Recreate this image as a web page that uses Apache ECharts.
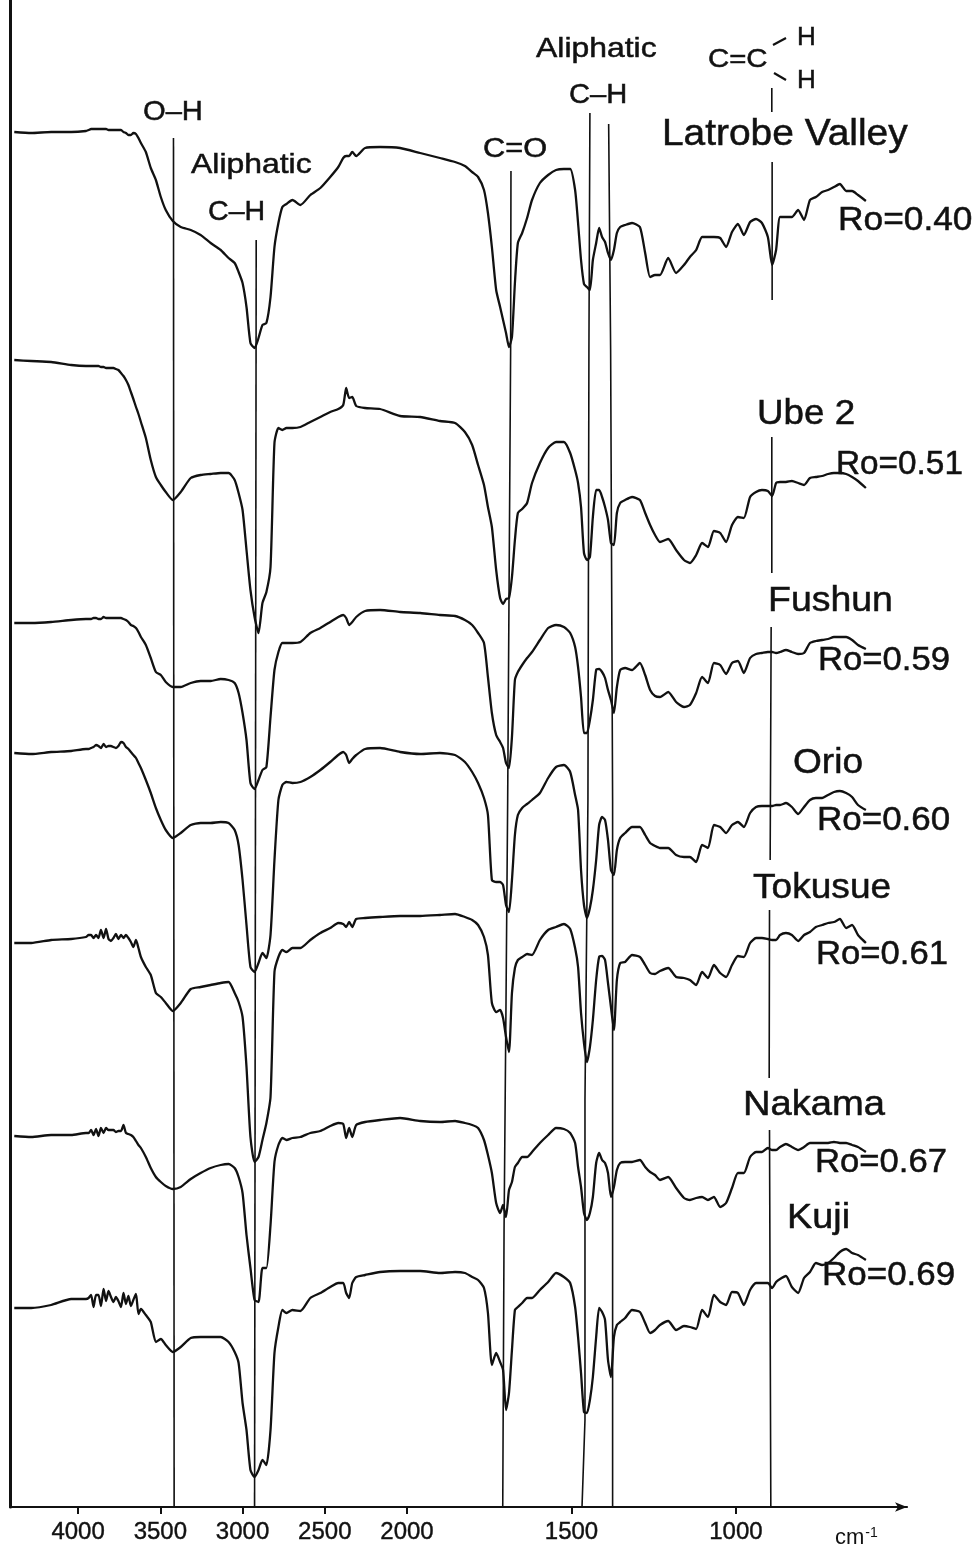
<!DOCTYPE html>
<html>
<head>
<meta charset="utf-8">
<title>IR spectra of coals</title>
<script src="https://cdn.jsdelivr.net/npm/echarts@6/dist/echarts.min.js"></script>
<style>
  html, body { margin: 0; padding: 0; background: #fff; }
  #main { width: 980px; height: 1546px; }
</style>
</head>
<body>
<div id="main"></div>
<script>
// wavenumber of each reading, cm-1
const wavenumbers = [
  4388,4285,4164,4042,3952,3936,3921,3906,3891,3876,3861,3845,3830,3815,3800,3785,3770,3755,3739,3724,3709,3694,3679,3664,3648,3633,3618,3588,3558,3527,3497,3467,
  3424,3376,3315,3255,3194,3133,3085,3048,3024,3000,2976,2952,2927,2903,2879,2855,2830,2806,2782,2758,2733,
  2697,2648,2588,2527,2467,2418,2388,2370,2352,2333,2309,2255,2164,2042,1960,1900,1854,1824,1802,1784,1766,1754,
  1742,1729,1717,1708,1699,1690,1681,1672,1663,1650,1635,1620,1596,1571,1547,1523,1504,1489,
  1480,1471,1462,1453,1444,1435,1425,1416,1407,1398,1389,1380,1371,1362,1352,1337,1316,1292,
  1276,1261,1246,1231,1206,1182,1158,1140,1121,1103,1085,1067,1048,1030,1012,994,976,957,939,921,903,
  890,878,866,848,830,811,793,775,757,738,720,702,684,665,647,629,605
]

// pen depth of each trace on the recorder sheet, same order as wavenumbers
const latrobeValley = [
  132,133,132,132,131,130,129,129,129,129,129,129,129,130,130,130,130,130,130,132,133,135,135,133,134,138,143,152,168,180,197,210,
  221,227,230,235,243,250,258,263,272,283,307,343,348,338,325,323,297,247,223,207,204,
  200,205,195,188,177,167,158,156,156,152,156,148,147,148,153,158,162,166,172,177,190,213,
  247,290,307,320,333,347,337,283,243,233,218,200,183,175,170,169,169,190,
  223,260,284,287,290,260,243,228,237,242,253,260,250,233,227,225,223,227,
  253,277,275,275,258,273,265,257,250,237,237,237,238,247,232,224,235,222,219,223,237,
  265,250,217,217,217,210,220,200,197,192,190,187,184,191,191,195,201
]
const ube2 = [
  360,361,362,365,366,366,366,366,366,366,367,367,368,368,368,368,369,370,373,376,380,385,392,399,407,414,422,438,460,477,485,492,
  500,492,478,475,474,473,473,480,493,510,550,590,617,633,603,592,567,443,428,430,428,
  428,427,422,417,412,409,405,388,398,397,406,408,409,416,417,421,423,432,445,465,485,507,
  527,570,598,604,599,598,577,540,513,509,503,483,463,448,442,442,453,470,
  483,507,553,560,557,517,490,490,497,507,520,543,545,513,503,500,497,500,
  513,525,535,542,539,550,560,563,555,543,547,531,533,542,525,517,518,497,492,490,491,
  496,483,482,482,481,483,485,478,477,476,474,473,473,474,477,481,488
]
const fushun = [
  623,623,622,620,619,619,619,618,618,619,619,617,618,618,618,618,618,618,618,619,620,622,625,626,628,632,637,645,658,672,675,682,
  687,687,683,681,681,679,680,683,693,713,740,783,789,780,770,767,717,670,652,643,643,
  643,642,633,628,622,617,615,618,625,622,617,611,610,612,613,615,616,620,625,633,643,677,
  713,735,742,748,763,768,737,680,672,665,658,652,640,628,625,627,633,647,
  667,697,733,733,720,700,670,669,672,678,690,700,713,687,670,668,670,663,
  675,690,696,697,692,702,707,705,693,677,683,663,665,674,663,661,673,658,654,653,652,
  652,653,652,650,652,654,653,643,641,640,639,637,637,637,640,645,649
]
const orio = [
  753,754,752,751,749,749,748,747,745,746,748,744,747,746,746,747,748,746,742,743,747,749,752,755,758,763,768,780,793,808,820,830,
  838,833,825,823,823,822,823,830,845,880,925,967,972,963,953,958,935,860,800,785,782,
  783,782,777,770,762,755,752,755,763,759,755,749,748,752,754,753,755,762,772,783,798,815,
  880,882,882,885,905,912,880,835,815,808,804,800,793,778,767,765,772,795,
  810,870,905,918,908,890,860,825,817,820,840,870,875,850,838,833,827,827,
  835,843,846,848,848,855,857,857,862,845,848,825,827,833,825,822,827,813,807,806,806,
  806,805,805,803,807,814,807,800,798,798,795,792,791,793,797,805,810
]
const tokusue = [
  943,943,940,939,937,935,935,938,935,938,930,938,929,939,941,938,934,939,935,938,935,938,942,947,940,948,957,967,975,993,997,1003,
  1011,1003,989,987,985,983,982,993,1002,1017,1067,1137,1162,1157,1140,1123,1097,972,957,950,952,
  948,948,940,933,928,923,924,927,922,927,919,918,917,916,916,915,914,917,920,925,937,955,
  1003,1012,1010,1018,1037,1052,993,968,960,957,954,955,940,930,927,924,929,948,
  967,1013,1043,1062,1047,1020,980,957,956,960,983,1007,1030,980,963,962,955,957,
  965,973,974,971,968,977,978,980,985,972,978,965,973,977,965,956,957,943,938,938,939,
  940,940,935,933,935,941,935,932,927,925,923,922,919,928,925,935,943
]
const nakama = [
  1136,1137,1135,1135,1133,1133,1130,1135,1129,1136,1128,1133,1128,1130,1130,1130,1132,1131,1131,1125,1133,1134,1135,1137,1141,1145,1148,1157,1168,1177,1182,1186,
  1189,1187,1179,1173,1168,1165,1164,1168,1177,1193,1235,1268,1300,1302,1268,1268,1225,1162,1145,1138,1140,
  1138,1137,1133,1131,1126,1123,1124,1138,1128,1137,1125,1122,1120,1118,1121,1122,1121,1123,1125,1128,1140,1155,
  1173,1203,1213,1205,1217,1190,1182,1167,1163,1157,1157,1152,1143,1135,1128,1129,1133,1143,
  1167,1187,1213,1220,1213,1197,1163,1153,1160,1163,1173,1197,1187,1170,1163,1162,1162,1160,
  1167,1172,1175,1180,1177,1188,1198,1200,1198,1197,1200,1197,1207,1203,1188,1173,1173,1157,1152,1152,1148,
  1150,1150,1147,1144,1147,1150,1147,1143,1143,1143,1143,1142,1143,1143,1145,1147,1152
]
const kuji = [
  1308,1308,1305,1299,1299,1298,1295,1307,1295,1295,1306,1289,1301,1291,1297,1302,1297,1301,1307,1293,1304,1296,1306,1300,1294,1314,1309,1315,1322,1342,1339,1345,
  1352,1347,1338,1337,1337,1337,1342,1352,1363,1403,1430,1470,1477,1470,1460,1465,1430,1353,1327,1310,1313,
  1310,1311,1298,1293,1287,1283,1283,1293,1298,1283,1277,1275,1272,1271,1271,1273,1272,1273,1277,1280,1288,1313,
  1365,1353,1362,1370,1410,1393,1350,1310,1307,1303,1298,1298,1290,1282,1273,1277,1283,1307,
  1337,1373,1412,1413,1400,1377,1337,1308,1312,1320,1360,1377,1337,1325,1322,1318,1310,1312,
  1323,1333,1330,1325,1321,1330,1326,1327,1329,1310,1317,1295,1302,1305,1292,1293,1305,1290,1283,1283,1283,
  1288,1282,1279,1276,1287,1293,1278,1272,1263,1265,1263,1258,1252,1249,1253,1255,1260
]

// band reference lines drawn by hand on the sheet, null = a break in the line
const ohLineWn = [3420, 3416]
const ohLineDepth = [138, 1507]
const chLineWn = [2917, 2927]
const chLineDepth = [240, 1507]
const coLineWn = [1684, 1685, 1694, 1699, 1705, 1709]
const coLineDepth = [171, 350, 800, 1000, 1230, 1507]
const ch2LineWn = [1444, 1447, 1450, 1459, 1459, 1468]
const ch2LineDepth = [113, 350, 800, 1100, 1420, 1507]
const ch3LineWn = [1387, 1381, 1375, 1375]
const ch3LineDepth = [124, 350, 800, 1507]
const vinylLineWn = [891, 891, null, 890, 890, null, 891, 891, null, 893, 896, null, 898, 899, null, 898, 894]
const vinylLineDepth = [88, 112, null, 162, 300, null, 437, 573, null, 627, 860, null, 910, 1078, null, 1130, 1507]

const tickLabels = [4000, 3500, 3000, 2500, 2000, 1500, 1000]

// the recorder halves the chart scale above 2000 cm-1
function wnToPos(wn) {
  return wn <= 2000 ? 2000 - wn : (2000 - wn) / 2
}
function posToWn(pos) {
  return pos >= 0 ? 2000 - pos : 2000 - pos * 2
}

function traceSeries(name, values) {
  return {
    name: name,
    type: 'line',
    symbol: 'none',
    silent: true,
    smooth: 0.2,
    lineStyle: { color: '#111', width: 2.3, join: 'round' },
    data: values.map((v, i) => [wnToPos(wavenumbers[i]), v])
  }
}
function markerSeries(name, wns, depths) {
  return {
    name: name,
    type: 'line',
    symbol: 'none',
    silent: true,
    connectNulls: false,
    lineStyle: { color: '#111', width: 1.6 },
    data: wns.map((w, i) => w === null ? [null, null] : [wnToPos(w), depths[i]])
  }
}

// text placed on the sheet: text, left, middle, font size, horizontal stretch
const notes = [
  ['O–H', 143, 110, 28, 1.04],
  ['Aliphatic', 191, 163, 28, 1.14],
  ['C–H', 208, 210, 28, 1.02],
  ['C=O', 483, 147, 27, 1.14],
  ['Aliphatic', 536, 47, 28, 1.14],
  ['C–H', 569, 93, 28, 1.04],
  ['C=C', 708, 57, 26, 1.13],
  ['H', 797, 35, 26, 1],
  ['H', 797, 78, 26, 1],
  ['Latrobe Valley', 662, 132, 36, 1.08],
  ['Ro=0.40', 838, 218, 33, 1.07],
  ['Ube 2', 757, 411, 35, 1.05],
  ['Ro=0.51', 836, 462, 33, 1.01],
  ['Fushun', 768, 598, 35, 1.07],
  ['Ro=0.59', 818, 658, 33, 1.05],
  ['Orio', 793, 760, 35, 1.06],
  ['Ro=0.60', 817, 818, 33, 1.06],
  ['Tokusue', 753, 885, 35, 1.06],
  ['Ro=0.61', 816, 952, 33, 1.05],
  ['Nakama', 743, 1102, 35, 1.09],
  ['Ro=0.67', 815, 1160, 33, 1.05],
  ['Kuji', 787, 1215, 35, 1.08],
  ['Ro=0.69', 822, 1273, 33, 1.06]
]

const graphics = notes.map(n => ({
  type: 'text',
  x: n[1],
  y: n[2] + n[3] * 0.09,
  scaleX: n[4],
  style: {
    text: n[0],
    fill: '#111',
    stroke: '#111',
    lineWidth: 0.5,
    font: n[3] + 'px "Liberation Sans"',
    textAlign: 'left',
    textVerticalAlign: 'middle'
  }
}))
// the two bonds of the vinyl sketch and the unit
graphics.push(
  { type: 'line', shape: { x1: 773, y1: 45, x2: 786, y2: 38 }, style: { stroke: '#111', lineWidth: 2.2 } },
  { type: 'line', shape: { x1: 774, y1: 73, x2: 786, y2: 80 }, style: { stroke: '#111', lineWidth: 2.2 } },
  {
    type: 'text',
    x: 835,
    y: 1538,
    style: {
      text: '{a|cm}{b|-1}',
      fill: '#111',
      textVerticalAlign: 'middle',
      rich: {
        a: { font: '22px "Liberation Sans"', fill: '#111' },
        b: { font: '14px "Liberation Sans"', fill: '#111', verticalAlign: 'top', padding: [0, 0, 10, 1] }
      }
    }
  }
)

const chart = echarts.init(document.getElementById('main'))
chart.setOption({
  animation: false,
  backgroundColor: '#fff',
  grid: { left: 10, right: 73, top: 0, height: 1507 },
  xAxis: {
    type: 'value',
    min: -1207,
    max: 1520,
    position: 'bottom',
    splitLine: { show: false },
    axisLine: {
      onZero: false,
      symbol: ['none', 'arrow'],
      symbolSize: [7, 12],
      lineStyle: { color: '#111', width: 2.2 }
    },
    axisTick: {
      customValues: tickLabels.map(wnToPos),
      length: 7,
      lineStyle: { color: '#111', width: 2 }
    },
    axisLabel: {
      customValues: tickLabels.map(wnToPos),
      formatter: v => String(posToWn(v)),
      color: '#111',
      textBorderColor: '#111',
      textBorderWidth: 0.4,
      fontFamily: 'Liberation Sans',
      fontSize: 24,
      margin: 13
    }
  },
  yAxis: {
    type: 'value',
    min: 0,
    max: 1507,
    inverse: true,
    splitLine: { show: false },
    axisTick: { show: false },
    axisLabel: { show: false },
    axisLine: { show: true, onZero: false, lineStyle: { color: '#111', width: 3 } }
  },
  series: [
    markerSeries('O-H', ohLineWn, ohLineDepth),
    markerSeries('Aliphatic C-H 2925', chLineWn, chLineDepth),
    markerSeries('C=O', coLineWn, coLineDepth),
    markerSeries('Aliphatic C-H 1450', ch2LineWn, ch2LineDepth),
    markerSeries('Aliphatic C-H 1375', ch3LineWn, ch3LineDepth),
    markerSeries('C=CH2', vinylLineWn, vinylLineDepth),
    traceSeries('Latrobe Valley', latrobeValley),
    traceSeries('Ube 2', ube2),
    traceSeries('Fushun', fushun),
    traceSeries('Orio', orio),
    traceSeries('Tokusue', tokusue),
    traceSeries('Nakama', nakama),
    traceSeries('Kuji', kuji)
  ],
  graphic: graphics
})
</script>
</body>
</html>
